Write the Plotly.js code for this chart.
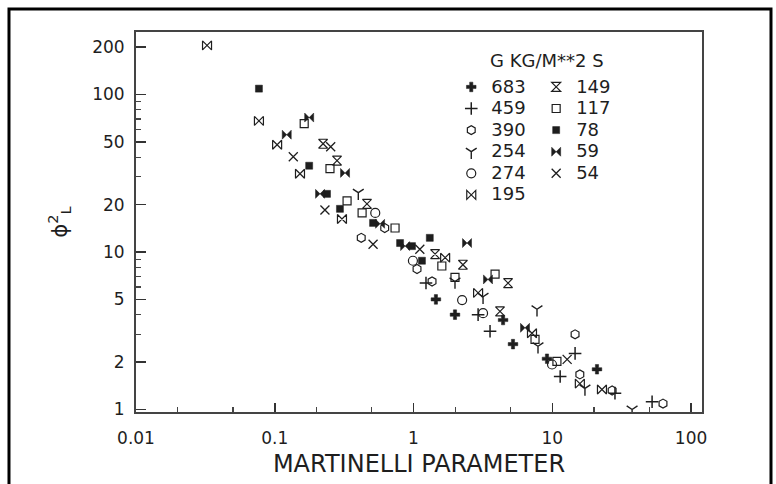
<!DOCTYPE html>
<html>
<head>
<meta charset="utf-8">
<script src="https://cdn.plot.ly/plotly-3.0.1.min.js"></script>
<style>html,body{margin:0;padding:0;background:#fff;}#chart{width:776px;height:484px;}</style>
</head>
<body>
<div id="chart"></div>
<script>
// ---- data ----
const x683 = [1.45, 1.99, 4.42, 5.21, 9.16, 21.0];
const y683 = [5.0, 4.0, 3.7, 2.6, 2.1, 1.8];
const x459 = [1.23, 2.92, 3.56, 11.4, 14.6, 28.3, 52.4];
const y459 = [6.35, 4.0, 3.14, 1.62, 2.27, 1.27, 1.12];
const x390 = [0.42, 0.62, 1.06, 1.36, 14.6, 15.8, 27.0, 62.8];
const y390 = [12.3, 14.2, 7.8, 6.5, 3.0, 1.67, 1.32, 1.09];
const x254 = [0.40, 1.99, 3.17, 7.76, 7.89, 17.2, 37.6];
const y254 = [23.8, 6.5, 5.2, 4.33, 2.52, 1.36, 1.0];
const x274 = [0.53, 0.99, 2.24, 3.17, 9.96];
const y274 = [17.7, 8.8, 4.95, 4.09, 1.93];
const x195 = [0.0325, 0.0769, 0.104, 0.152, 0.305, 1.69, 2.92, 7.14, 15.8, 22.8];
const y195 = [205, 68, 48, 31.4, 16.2, 9.2, 5.5, 3.05, 1.46, 1.34];
const x149 = [0.223, 0.281, 0.462, 1.43, 2.27, 4.20, 4.80];
const y149 = [48.7, 38.0, 20.2, 9.7, 8.3, 4.2, 6.35];
const x117 = [0.163, 0.250, 0.332, 0.426, 0.736, 1.60, 1.99, 3.87, 7.51, 10.8];
const y117 = [65.3, 33.8, 21.1, 17.7, 14.2, 8.15, 6.9, 7.24, 2.79, 2.02];
const x78 = [0.0769, 0.177, 0.238, 0.295, 0.511, 0.80, 0.975, 1.15, 1.31];
const y78 = [109, 35.3, 23.4, 18.8, 15.3, 11.4, 10.9, 8.8, 12.3];
const x59 = [0.122, 0.177, 0.212, 0.321, 0.574, 0.87, 2.43, 3.44, 6.36];
const y59 = [55.6, 71.4, 23.4, 31.8, 15.1, 10.9, 11.4, 6.7, 3.3];
const x54 = [0.136, 0.230, 0.253, 0.511, 1.11, 12.8];
const y54 = [40.3, 18.5, 46.6, 11.2, 10.4, 2.08];

const xTickVals = [0.01, 0.1, 1, 10, 100];
const xTickText = ['0.01', '0.1', '1', '10', '100'];
const xMinorVals = [0.02, 0.05, 0.2, 0.5, 2, 5, 20, 50];
const yTickVals = [1, 2, 5, 10, 20, 50, 100, 200];
const yTickText = ['1', '2', '5', '10', '20', '50', '100', '200'];
const yMinorVals = [3, 4, 6, 7, 8, 9, 30, 40, 60, 70, 80, 90, 300];

// ---- styling ----
const ink = '#1e1e1e';
const FONT = 'DejaVu Sans, Arial, sans-serif';
function nm(s) { return '<span style="font-size:18px">' + s + '</span>'; }
function tr(x, y, name, symbol, size, legend, lw) {
  return {
    type: 'scatter', mode: 'markers', x: x, y: y, name: nm(name), legend: legend,
    marker: { symbol: symbol, size: size, color: ink, line: { color: ink, width: lw } },
    hoverinfo: 'x+y'
  };
}
const data = [
  tr(x683, y683, '683', 'cross', 8, 'legend', 0.5),
  tr(x459, y459, '459', 'cross-thin-open', 9, 'legend', 1.5),
  tr(x390, y390, '390', 'hexagon-open', 9, 'legend', 1.2),
  tr(x254, y254, '254', 'y-down-open', 9, 'legend', 1.4),
  tr(x274, y274, '274', 'circle-open', 9, 'legend', 1.2),
  tr(x195, y195, '195', 'bowtie-open', 9, 'legend', 1.2),
  tr(x149, y149, '149', 'hourglass-open', 9, 'legend2', 1.2),
  tr(x117, y117, '117', 'square-open', 8, 'legend2', 1.2),
  tr(x78, y78, '78', 'square', 7, 'legend2', 0.5),
  tr(x59, y59, '59', 'bowtie', 9, 'legend2', 0.5),
  tr(x54, y54, '54', 'x-thin-open', 9, 'legend2', 1.3)
];

const legendCommon = {
  bgcolor: 'rgba(0,0,0,0)', borderwidth: 0, traceorder: 'normal',
  font: { family: FONT, size: 14.3, color: ink },
  xanchor: 'left', yanchor: 'top', itemclick: false, itemdoubleclick: false
};

const layout = {
  width: 776, height: 484,
  margin: { l: 136, r: 74, t: 32, b: 72, pad: 0 },
  paper_bgcolor: '#fff', plot_bgcolor: '#fff',
  font: { family: FONT, color: ink },
  showlegend: true,
  legend: Object.assign({}, legendCommon, { x: 0.557, y: 0.897 }),
  legend2: Object.assign({}, legendCommon, { x: 0.707, y: 0.897 }),
  xaxis: {
    type: 'log', range: [-2, 2.079], autorange: false,
    tickmode: 'array', tickvals: xTickVals, ticktext: xTickText,
    ticks: 'inside', ticklen: 9, tickwidth: 1.5, tickcolor: '#333',
    ticklabelstandoff: 10,
    minor: { tickmode: 'array', tickvals: xMinorVals, ticks: 'inside', ticklen: 5, tickwidth: 1.2, tickcolor: '#444', showgrid: false },
    showline: true, linecolor: '#444', linewidth: 2, mirror: true,
    showgrid: false, zeroline: false,
    tickfont: { family: FONT, size: 17, color: ink },
    title: { text: 'MARTINELLI PARAMETER', font: { family: FONT, size: 24, color: ink }, standoff: 8 }
  },
  yaxis: {
    type: 'log', range: [-0.016, 2.397], autorange: false,
    tickmode: 'array', tickvals: yTickVals, ticktext: yTickText,
    ticks: 'inside', ticklen: 10, tickwidth: 1.5, tickcolor: '#333',
    ticklabelstandoff: 6,
    minor: { tickmode: 'array', tickvals: yMinorVals, ticks: 'inside', ticklen: 5, tickwidth: 1.2, tickcolor: '#444', showgrid: false },
    showline: true, linecolor: '#444', linewidth: 2, mirror: true,
    showgrid: false, zeroline: false,
    tickfont: { family: FONT, size: 17, color: ink },
    title: { text: 'ϕ<sup>2</sup><sub>L</sub>', font: { family: FONT, size: 21, color: ink }, standoff: 19 }
  },
  annotations: [
    { xref: 'paper', yref: 'paper', x: 0.622, y: 0.926, xanchor: 'left', yanchor: 'middle',
      text: 'G KG/M**2 S', showarrow: false, font: { family: FONT, size: 18, color: ink } }
  ],
  shapes: [
    { type: 'rect', xref: 'paper', yref: 'paper', x0: -0.2244, x1: 1.1219, y0: -0.25, y1: 1.0605,
      line: { color: '#000', width: 3 }, fillcolor: 'rgba(0,0,0,0)', layer: 'above' }
  ]
};

Plotly.newPlot('chart', data, layout, { displayModeBar: false, staticPlot: true });
</script>
</body>
</html>
